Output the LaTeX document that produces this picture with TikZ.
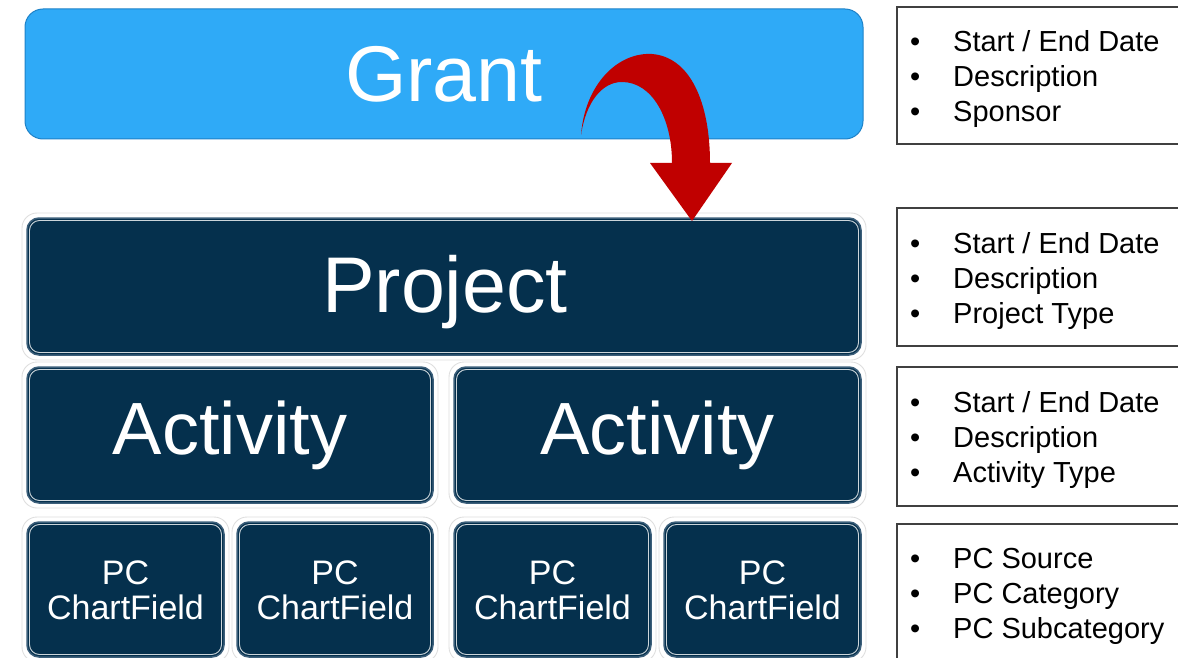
\documentclass[tikz,border=0pt]{standalone}
\usepackage{fontspec}
\setmainfont{Liberation Sans}
\definecolor{navy}{RGB}{5,48,77}
\definecolor{navyedge}{RGB}{60,95,122}
\definecolor{grantblue}{RGB}{47,170,247}
\definecolor{grantedge}{RGB}{30,130,200}
\definecolor{arrowred}{RGB}{192,0,0}
\tikzset{
  halo/.style={draw=black!13, line width=0.9pt, rounded corners=15pt, inner sep=0pt},
  darkbox/.style={draw=navyedge, line width=1.5pt, fill=navy, rounded corners=12pt, inner sep=0pt},
  innerline/.style={draw=white!80!navy, line width=0.9pt, rounded corners=10pt, inner sep=0pt},
  grantbox/.style={draw=grantedge, line width=1pt, fill=grantblue, rounded corners=18pt, inner sep=0pt},
  infobox/.style={draw=black!75, line width=1.4pt, inner sep=0pt},
  biglabel/.style={text=white, font=\fontsize{79}{79}\selectfont, anchor=base, inner sep=0pt},
  actlabel/.style={text=white, font=\fontsize{74}{74}\selectfont, anchor=base, inner sep=0pt},
  pclabel/.style={text=white, font=\fontsize{34}{34}\selectfont, anchor=base, inner sep=0pt},
  listtext/.style={text=black, font=\fontsize{29}{29}\selectfont, anchor=base west, inner sep=0pt},
}
\newcommand\dbox[5]{%
  \node[halo, minimum width={(#4+10)*1pt}, minimum height={(#5+10)*1pt}] (#1h) at (#2,#3) {};
  \node[darkbox, minimum width={#4*1pt}, minimum height={#5*1pt}] (#1) at (#2,#3) {};
  \node[innerline, minimum width={(#4-5)*1pt}, minimum height={(#5-5)*1pt}] (#1i) at (#2,#3) {};
}
\newcommand\infolist[5]{% name, first baseline, three lines
  \node[listtext] (#1b1) at (910,#2) {•};
  \node[listtext] (#1t1) at (953,#2) {#3};
  \node[listtext] (#1b2) at (910,#2+35) {•};
  \node[listtext] (#1t2) at (953,#2+35) {#4};
  \node[listtext] (#1b3) at (910,#2+70) {•};
  \node[listtext] (#1t3) at (953,#2+70) {#5};
}
\begin{document}
\begin{tikzpicture}[x=1pt,y=-1pt]
\useasboundingbox (0,0) rectangle (1178,658);
\clip (0,0) rectangle (1178,658);

% Grant
\node[grantbox, minimum width=838pt, minimum height=130pt] (grant) at (444,74) {};
\node[biglabel] (grantlbl) at (444,102) {Grant};

% Project
\dbox{project}{444}{286.5}{834}{137}
\node[biglabel] (projectlbl) at (445,312) {Project};

% Activities
\dbox{actA}{230}{435}{406}{136}
\dbox{actB}{657.5}{435}{407}{136}
\node[actlabel] (actAlbl) at (230,454) {Activity};
\node[actlabel] (actBlbl) at (657.5,454) {Activity};

% PC ChartFields
\dbox{pcA}{125.5}{589.5}{197}{135}
\dbox{pcB}{335}{589.5}{196}{135}
\dbox{pcC}{552.5}{589.5}{197}{135}
\dbox{pcD}{762.5}{589.5}{197}{135}
\foreach \n/\x in {pcA/125.5, pcB/335, pcC/552.5, pcD/762.5}{
  \node[pclabel] (\n l1) at (\x,584) {PC};
  \node[pclabel] (\n l2) at (\x,619) {ChartField};
}

% Info boxes
\node[infobox, minimum width=303pt, minimum height=137pt] (info1) at (1048.5,75.5) {};
\node[infobox, minimum width=303pt, minimum height=138pt] (info2) at (1048.5,277) {};
\node[infobox, minimum width=303pt, minimum height=139pt] (info3) at (1048.5,436.5) {};
\node[infobox, minimum width=303pt, minimum height=176pt] (info4) at (1048.5,612) {};
\infolist{ia}{52}{Start / End Date}{Description}{Sponsor}
\infolist{ib}{253}{Start / End Date}{Description}{Project Type}
\infolist{ic}{412}{Start / End Date}{Description}{Activity Type}
\infolist{id}{568}{PC Source}{PC Category}{PC Subcategory}

% Curved red arrow from Grant to Project
\fill[arrowred] (581,135)
  .. controls (585,84) and (618,52) .. (652,54)
  .. controls (690,57) and (710,102) .. (710,163)
  -- (732,163) -- (692,221) -- (650,163) -- (672,163)
  .. controls (672,118) and (652,82) .. (622,82)
  .. controls (602,82) and (586,102) .. (581,135) -- cycle;
\end{tikzpicture}
\end{document}
